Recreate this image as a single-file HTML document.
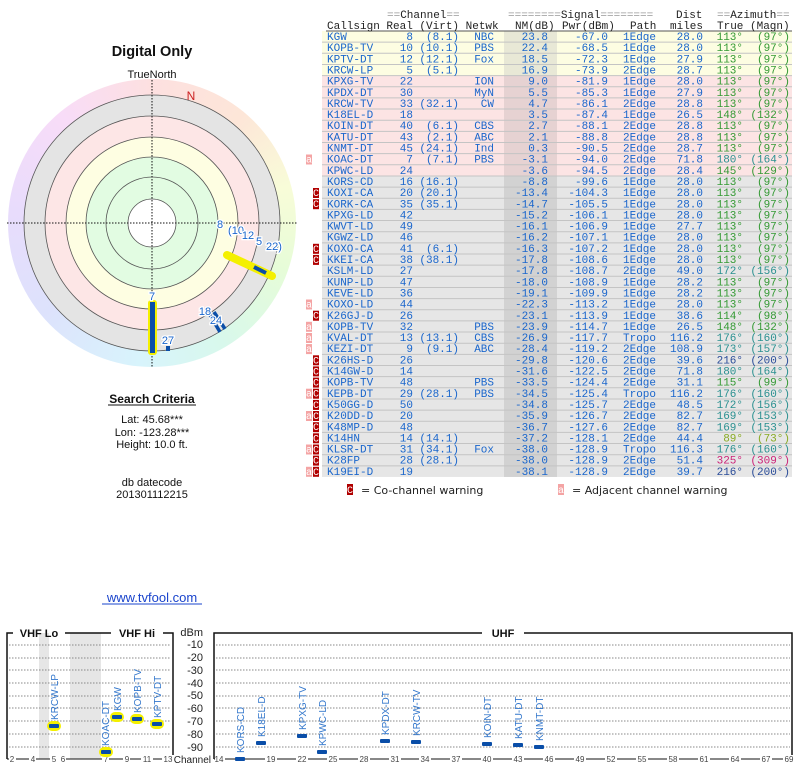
<!DOCTYPE html>
<html><head><meta charset="utf-8"><style>
body{margin:0;width:800px;height:768px;background:#fff;overflow:hidden;position:relative;font-family:"Liberation Sans",sans-serif}
svg{position:absolute;left:0;top:0}
.t text{font-family:"Liberation Mono",monospace;font-size:11px;fill:#1a66cc}
.t text.e{text-anchor:end}
.g{fill:#339933!important}.tl{fill:#2a9090!important}.db{fill:#2a4c99!important}.ol{fill:#88aa22!important}.mg{fill:#cc2277!important}
.hd text{font-family:"Liberation Mono",monospace;font-size:11px;fill:#222}
.q{fill:#999}
.rt text{font-family:"Liberation Sans",sans-serif;font-size:10px;fill:#3377cc}
.ax text{font-family:"Liberation Sans",sans-serif;font-size:11px;fill:#222;text-anchor:end}
.ch text{font-family:"Liberation Sans",sans-serif;font-size:8px;fill:#444;text-anchor:middle}
</style></head><body>
<div style="position:absolute;left:8px;top:79px;width:288px;height:288px;border-radius:50%;background:conic-gradient(#fde0e0 0deg,#fde6d8 40deg,#f8fcd8 75deg,#e6fcd8 110deg,#d8f8ec 150deg,#d8f4fc 185deg,#dde2fc 230deg,#e8dcfc 275deg,#f8dcf8 320deg,#fde0e0 360deg)"></div>
<svg width="800" height="768" viewBox="0 0 800 768">
<text x="152" y="56" font-size="14.5" font-weight="bold" text-anchor="middle" fill="#111">Digital Only</text>
<text x="152" y="78" font-size="11" text-anchor="middle" fill="#111">TrueNorth</text>
<circle cx="152" cy="223" r="128" fill="#e4e4e4" stroke="#555" stroke-width="0.8"/>
<circle cx="152" cy="223" r="107" fill="#fde6e6" stroke="#555" stroke-width="0.8"/>
<circle cx="152" cy="223" r="86" fill="#fefee2" stroke="#555" stroke-width="0.8"/>
<circle cx="152" cy="223" r="66" fill="#e2fce2" stroke="#555" stroke-width="0.8"/>
<circle cx="152" cy="223" r="46" fill="none" stroke="#555" stroke-width="0.8"/>
<circle cx="152" cy="223" r="24" fill="#fff" stroke="#555" stroke-width="0.8"/>
<line x1="7" y1="223" x2="297" y2="223" stroke="#111" stroke-dasharray="1.5,1.5"/>
<line x1="152" y1="80" x2="152" y2="368" stroke="#111" stroke-dasharray="1.5,1.5"/>
<text x="191" y="100" font-size="12" fill="#cc2222" text-anchor="middle">N</text>
<line x1="227" y1="255" x2="272" y2="276" stroke="#f4f000" stroke-width="8" stroke-linecap="round"/>
<line x1="254" y1="267" x2="266" y2="273" stroke="#0a4ea8" stroke-width="4"/>
<line x1="207" y1="310" x2="220" y2="332" stroke="#0a4ea8" stroke-width="3.5"/>
<line x1="214" y1="312" x2="225" y2="329" stroke="#0a4ea8" stroke-width="3.5"/>
<rect x="148" y="300" width="9" height="55" rx="3" fill="#f4f000"/>
<rect x="150" y="302" width="5" height="51" fill="#0a4ea8"/>
<rect x="166" y="346" width="4" height="5" fill="#0a4ea8"/>
<g font-size="11" fill="#1a66cc" stroke="#fff" stroke-width="2.5" paint-order="stroke" text-anchor="middle">
<text x="220" y="228">8</text><text x="236" y="234">(10</text><text x="248" y="239">12</text><text x="259" y="245">5</text><text x="274" y="250">22)</text>
<text x="205" y="315">18</text><text x="216" y="324">24</text><text x="152" y="300">7</text><text x="168" y="344">27</text>
</g>
<text x="152" y="403" font-size="12" font-weight="bold" text-anchor="middle" fill="#111">Search Criteria</text>
<line x1="108" y1="405" x2="196" y2="405" stroke="#111"/>
<g font-size="11" text-anchor="middle" fill="#111">
<text x="152" y="423">Lat: 45.68***</text><text x="152" y="436">Lon: -123.28***</text><text x="152" y="448">Height: 10.0 ft.</text>
<text x="152" y="486">db datecode</text><text x="152" y="498">201301112215</text></g>
<text x="152" y="602" font-size="13" text-anchor="middle" fill="#1a44cc">www.tvfool.com</text>
<line x1="102" y1="604" x2="202" y2="604" stroke="#1a44cc"/>

<rect x="322" y="31" width="470" height="44.6" fill="#fdfde2"/>
<rect x="322" y="75.6" width="470" height="100.35" fill="#fce4e4"/>
<rect x="322" y="175.95" width="470" height="301" fill="#e6e6e6"/>
<rect x="504" y="31" width="53" height="44.6" fill="#e8e8d6"/>
<rect x="504" y="75.6" width="53" height="100.35" fill="#e6d2d2"/>
<rect x="504" y="175.95" width="53" height="301" fill="#d2d2d2"/>
<g stroke="#c4c4c4" stroke-width="1">
<path d="M322 42.15H792M322 53.3H792M322 64.45H792M322 75.6H792M322 86.75H792M322 97.9H792M322 109.05H792M322 120.2H792M322 131.35H792M322 142.5H792M322 153.65H792M322 164.8H792M322 175.95H792M322 187.1H792M322 198.25H792M322 209.4H792M322 220.55H792M322 231.7H792M322 242.85H792M322 254H792M322 265.15H792M322 276.3H792M322 287.45H792M322 298.6H792M322 309.75H792M322 320.9H792M322 332.05H792M322 343.2H792M322 354.35H792M322 365.5H792M322 376.65H792M322 387.8H792M322 398.95H792M322 410.1H792M322 421.25H792M322 432.4H792M322 443.55H792M322 454.7H792M322 465.85H792"/></g>
<line x1="326" y1="31" x2="792" y2="31" stroke="#555"/>
<g class="hd">
<text x="387" y="18"><tspan class="q">==</tspan>Channel<tspan class="q">==</tspan></text>
<text x="508" y="18"><tspan class="q">========</tspan>Signal<tspan class="q">========</tspan></text>
<text x="676" y="18">Dist</text>
<text x="717" y="18"><tspan class="q">==</tspan>Azimuth<tspan class="q">==</tspan></text>
<text x="327" y="29">Callsign Real (Virt) Netwk</text>
<text x="515" y="29">NM(dB)</text><text x="562" y="29">Pwr(dBm)</text><text x="630" y="29">Path</text><text x="670" y="29">miles</text><text x="717" y="29">True (Magn)</text>
</g>
<g class="t">
<g transform="translate(0,31)"><text x="327" y="9">KGW</text><text x="413" y="9" class="e">8</text><text x="459" y="9" class="e">(8.1)</text><text x="494" y="9" class="e">NBC</text><text x="548" y="9" class="e">23.8</text><text x="608" y="9" class="e">-67.0</text><text x="623" y="9">1Edge</text><text x="703" y="9" class="e">28.0</text><text x="743" y="9" class="e g">113°</text><text x="790" y="9" class="e g">(97°)</text></g>
<g transform="translate(0,42.15)"><text x="327" y="9">KOPB-TV</text><text x="413" y="9" class="e">10</text><text x="459" y="9" class="e">(10.1)</text><text x="494" y="9" class="e">PBS</text><text x="548" y="9" class="e">22.4</text><text x="608" y="9" class="e">-68.5</text><text x="623" y="9">1Edge</text><text x="703" y="9" class="e">28.0</text><text x="743" y="9" class="e g">113°</text><text x="790" y="9" class="e g">(97°)</text></g>
<g transform="translate(0,53.3)"><text x="327" y="9">KPTV-DT</text><text x="413" y="9" class="e">12</text><text x="459" y="9" class="e">(12.1)</text><text x="494" y="9" class="e">Fox</text><text x="548" y="9" class="e">18.5</text><text x="608" y="9" class="e">-72.3</text><text x="623" y="9">1Edge</text><text x="703" y="9" class="e">27.9</text><text x="743" y="9" class="e g">113°</text><text x="790" y="9" class="e g">(97°)</text></g>
<g transform="translate(0,64.45)"><text x="327" y="9">KRCW-LP</text><text x="413" y="9" class="e">5</text><text x="459" y="9" class="e">(5.1)</text><text x="548" y="9" class="e">16.9</text><text x="608" y="9" class="e">-73.9</text><text x="623" y="9">2Edge</text><text x="703" y="9" class="e">28.7</text><text x="743" y="9" class="e g">113°</text><text x="790" y="9" class="e g">(97°)</text></g>
<g transform="translate(0,75.6)"><text x="327" y="9">KPXG-TV</text><text x="413" y="9" class="e">22</text><text x="494" y="9" class="e">ION</text><text x="548" y="9" class="e">9.0</text><text x="608" y="9" class="e">-81.9</text><text x="623" y="9">1Edge</text><text x="703" y="9" class="e">28.0</text><text x="743" y="9" class="e g">113°</text><text x="790" y="9" class="e g">(97°)</text></g>
<g transform="translate(0,86.75)"><text x="327" y="9">KPDX-DT</text><text x="413" y="9" class="e">30</text><text x="494" y="9" class="e">MyN</text><text x="548" y="9" class="e">5.5</text><text x="608" y="9" class="e">-85.3</text><text x="623" y="9">1Edge</text><text x="703" y="9" class="e">27.9</text><text x="743" y="9" class="e g">113°</text><text x="790" y="9" class="e g">(97°)</text></g>
<g transform="translate(0,97.9)"><text x="327" y="9">KRCW-TV</text><text x="413" y="9" class="e">33</text><text x="459" y="9" class="e">(32.1)</text><text x="494" y="9" class="e">CW</text><text x="548" y="9" class="e">4.7</text><text x="608" y="9" class="e">-86.1</text><text x="623" y="9">2Edge</text><text x="703" y="9" class="e">28.8</text><text x="743" y="9" class="e g">113°</text><text x="790" y="9" class="e g">(97°)</text></g>
<g transform="translate(0,109.05)"><text x="327" y="9">K18EL-D</text><text x="413" y="9" class="e">18</text><text x="548" y="9" class="e">3.5</text><text x="608" y="9" class="e">-87.4</text><text x="623" y="9">1Edge</text><text x="703" y="9" class="e">26.5</text><text x="743" y="9" class="e g">148°</text><text x="790" y="9" class="e g">(132°)</text></g>
<g transform="translate(0,120.2)"><text x="327" y="9">KOIN-DT</text><text x="413" y="9" class="e">40</text><text x="459" y="9" class="e">(6.1)</text><text x="494" y="9" class="e">CBS</text><text x="548" y="9" class="e">2.7</text><text x="608" y="9" class="e">-88.1</text><text x="623" y="9">2Edge</text><text x="703" y="9" class="e">28.8</text><text x="743" y="9" class="e g">113°</text><text x="790" y="9" class="e g">(97°)</text></g>
<g transform="translate(0,131.35)"><text x="327" y="9">KATU-DT</text><text x="413" y="9" class="e">43</text><text x="459" y="9" class="e">(2.1)</text><text x="494" y="9" class="e">ABC</text><text x="548" y="9" class="e">2.1</text><text x="608" y="9" class="e">-88.8</text><text x="623" y="9">2Edge</text><text x="703" y="9" class="e">28.8</text><text x="743" y="9" class="e g">113°</text><text x="790" y="9" class="e g">(97°)</text></g>
<g transform="translate(0,142.5)"><text x="327" y="9">KNMT-DT</text><text x="413" y="9" class="e">45</text><text x="459" y="9" class="e">(24.1)</text><text x="494" y="9" class="e">Ind</text><text x="548" y="9" class="e">0.3</text><text x="608" y="9" class="e">-90.5</text><text x="623" y="9">2Edge</text><text x="703" y="9" class="e">28.7</text><text x="743" y="9" class="e g">113°</text><text x="790" y="9" class="e g">(97°)</text></g>
<g transform="translate(0,153.65)"><text x="327" y="9">KOAC-DT</text><text x="413" y="9" class="e">7</text><text x="459" y="9" class="e">(7.1)</text><text x="494" y="9" class="e">PBS</text><text x="548" y="9" class="e">-3.1</text><text x="608" y="9" class="e">-94.0</text><text x="623" y="9">2Edge</text><text x="703" y="9" class="e">71.8</text><text x="743" y="9" class="e tl">180°</text><text x="790" y="9" class="e tl">(164°)</text></g>
<g transform="translate(0,164.8)"><text x="327" y="9">KPWC-LD</text><text x="413" y="9" class="e">24</text><text x="548" y="9" class="e">-3.6</text><text x="608" y="9" class="e">-94.5</text><text x="623" y="9">2Edge</text><text x="703" y="9" class="e">28.4</text><text x="743" y="9" class="e g">145°</text><text x="790" y="9" class="e g">(129°)</text></g>
<g transform="translate(0,175.95)"><text x="327" y="9">KORS-CD</text><text x="413" y="9" class="e">16</text><text x="459" y="9" class="e">(16.1)</text><text x="548" y="9" class="e">-8.8</text><text x="608" y="9" class="e">-99.6</text><text x="623" y="9">1Edge</text><text x="703" y="9" class="e">28.0</text><text x="743" y="9" class="e g">113°</text><text x="790" y="9" class="e g">(97°)</text></g>
<g transform="translate(0,187.1)"><text x="327" y="9">KOXI-CA</text><text x="413" y="9" class="e">20</text><text x="459" y="9" class="e">(20.1)</text><text x="548" y="9" class="e">-13.4</text><text x="608" y="9" class="e">-104.3</text><text x="623" y="9">1Edge</text><text x="703" y="9" class="e">28.0</text><text x="743" y="9" class="e g">113°</text><text x="790" y="9" class="e g">(97°)</text></g>
<g transform="translate(0,198.25)"><text x="327" y="9">KORK-CA</text><text x="413" y="9" class="e">35</text><text x="459" y="9" class="e">(35.1)</text><text x="548" y="9" class="e">-14.7</text><text x="608" y="9" class="e">-105.5</text><text x="623" y="9">1Edge</text><text x="703" y="9" class="e">28.0</text><text x="743" y="9" class="e g">113°</text><text x="790" y="9" class="e g">(97°)</text></g>
<g transform="translate(0,209.4)"><text x="327" y="9">KPXG-LD</text><text x="413" y="9" class="e">42</text><text x="548" y="9" class="e">-15.2</text><text x="608" y="9" class="e">-106.1</text><text x="623" y="9">1Edge</text><text x="703" y="9" class="e">28.0</text><text x="743" y="9" class="e g">113°</text><text x="790" y="9" class="e g">(97°)</text></g>
<g transform="translate(0,220.55)"><text x="327" y="9">KWVT-LD</text><text x="413" y="9" class="e">49</text><text x="548" y="9" class="e">-16.1</text><text x="608" y="9" class="e">-106.9</text><text x="623" y="9">1Edge</text><text x="703" y="9" class="e">27.7</text><text x="743" y="9" class="e g">113°</text><text x="790" y="9" class="e g">(97°)</text></g>
<g transform="translate(0,231.7)"><text x="327" y="9">KGWZ-LD</text><text x="413" y="9" class="e">46</text><text x="548" y="9" class="e">-16.2</text><text x="608" y="9" class="e">-107.1</text><text x="623" y="9">1Edge</text><text x="703" y="9" class="e">28.0</text><text x="743" y="9" class="e g">113°</text><text x="790" y="9" class="e g">(97°)</text></g>
<g transform="translate(0,242.85)"><text x="327" y="9">KOXO-CA</text><text x="413" y="9" class="e">41</text><text x="459" y="9" class="e">(6.1)</text><text x="548" y="9" class="e">-16.3</text><text x="608" y="9" class="e">-107.2</text><text x="623" y="9">1Edge</text><text x="703" y="9" class="e">28.0</text><text x="743" y="9" class="e g">113°</text><text x="790" y="9" class="e g">(97°)</text></g>
<g transform="translate(0,254)"><text x="327" y="9">KKEI-CA</text><text x="413" y="9" class="e">38</text><text x="459" y="9" class="e">(38.1)</text><text x="548" y="9" class="e">-17.8</text><text x="608" y="9" class="e">-108.6</text><text x="623" y="9">1Edge</text><text x="703" y="9" class="e">28.0</text><text x="743" y="9" class="e g">113°</text><text x="790" y="9" class="e g">(97°)</text></g>
<g transform="translate(0,265.15)"><text x="327" y="9">KSLM-LD</text><text x="413" y="9" class="e">27</text><text x="548" y="9" class="e">-17.8</text><text x="608" y="9" class="e">-108.7</text><text x="623" y="9">2Edge</text><text x="703" y="9" class="e">49.0</text><text x="743" y="9" class="e tl">172°</text><text x="790" y="9" class="e tl">(156°)</text></g>
<g transform="translate(0,276.3)"><text x="327" y="9">KUNP-LD</text><text x="413" y="9" class="e">47</text><text x="548" y="9" class="e">-18.0</text><text x="608" y="9" class="e">-108.9</text><text x="623" y="9">1Edge</text><text x="703" y="9" class="e">28.2</text><text x="743" y="9" class="e g">113°</text><text x="790" y="9" class="e g">(97°)</text></g>
<g transform="translate(0,287.45)"><text x="327" y="9">KEVE-LD</text><text x="413" y="9" class="e">36</text><text x="548" y="9" class="e">-19.1</text><text x="608" y="9" class="e">-109.9</text><text x="623" y="9">1Edge</text><text x="703" y="9" class="e">28.2</text><text x="743" y="9" class="e g">113°</text><text x="790" y="9" class="e g">(97°)</text></g>
<g transform="translate(0,298.6)"><text x="327" y="9">KOXO-LD</text><text x="413" y="9" class="e">44</text><text x="548" y="9" class="e">-22.3</text><text x="608" y="9" class="e">-113.2</text><text x="623" y="9">1Edge</text><text x="703" y="9" class="e">28.0</text><text x="743" y="9" class="e g">113°</text><text x="790" y="9" class="e g">(97°)</text></g>
<g transform="translate(0,309.75)"><text x="327" y="9">K26GJ-D</text><text x="413" y="9" class="e">26</text><text x="548" y="9" class="e">-23.1</text><text x="608" y="9" class="e">-113.9</text><text x="623" y="9">1Edge</text><text x="703" y="9" class="e">38.6</text><text x="743" y="9" class="e g">114°</text><text x="790" y="9" class="e g">(98°)</text></g>
<g transform="translate(0,320.9)"><text x="327" y="9">KOPB-TV</text><text x="413" y="9" class="e">32</text><text x="494" y="9" class="e">PBS</text><text x="548" y="9" class="e">-23.9</text><text x="608" y="9" class="e">-114.7</text><text x="623" y="9">1Edge</text><text x="703" y="9" class="e">26.5</text><text x="743" y="9" class="e g">148°</text><text x="790" y="9" class="e g">(132°)</text></g>
<g transform="translate(0,332.05)"><text x="327" y="9">KVAL-DT</text><text x="413" y="9" class="e">13</text><text x="459" y="9" class="e">(13.1)</text><text x="494" y="9" class="e">CBS</text><text x="548" y="9" class="e">-26.9</text><text x="608" y="9" class="e">-117.7</text><text x="623" y="9">Tropo</text><text x="703" y="9" class="e">116.2</text><text x="743" y="9" class="e tl">176°</text><text x="790" y="9" class="e tl">(160°)</text></g>
<g transform="translate(0,343.2)"><text x="327" y="9">KEZI-DT</text><text x="413" y="9" class="e">9</text><text x="459" y="9" class="e">(9.1)</text><text x="494" y="9" class="e">ABC</text><text x="548" y="9" class="e">-28.4</text><text x="608" y="9" class="e">-119.2</text><text x="623" y="9">2Edge</text><text x="703" y="9" class="e">108.9</text><text x="743" y="9" class="e tl">173°</text><text x="790" y="9" class="e tl">(157°)</text></g>
<g transform="translate(0,354.35)"><text x="327" y="9">K26HS-D</text><text x="413" y="9" class="e">26</text><text x="548" y="9" class="e">-29.8</text><text x="608" y="9" class="e">-120.6</text><text x="623" y="9">2Edge</text><text x="703" y="9" class="e">39.6</text><text x="743" y="9" class="e db">216°</text><text x="790" y="9" class="e db">(200°)</text></g>
<g transform="translate(0,365.5)"><text x="327" y="9">K14GW-D</text><text x="413" y="9" class="e">14</text><text x="548" y="9" class="e">-31.6</text><text x="608" y="9" class="e">-122.5</text><text x="623" y="9">2Edge</text><text x="703" y="9" class="e">71.8</text><text x="743" y="9" class="e tl">180°</text><text x="790" y="9" class="e tl">(164°)</text></g>
<g transform="translate(0,376.65)"><text x="327" y="9">KOPB-TV</text><text x="413" y="9" class="e">48</text><text x="494" y="9" class="e">PBS</text><text x="548" y="9" class="e">-33.5</text><text x="608" y="9" class="e">-124.4</text><text x="623" y="9">2Edge</text><text x="703" y="9" class="e">31.1</text><text x="743" y="9" class="e g">115°</text><text x="790" y="9" class="e g">(99°)</text></g>
<g transform="translate(0,387.8)"><text x="327" y="9">KEPB-DT</text><text x="413" y="9" class="e">29</text><text x="459" y="9" class="e">(28.1)</text><text x="494" y="9" class="e">PBS</text><text x="548" y="9" class="e">-34.5</text><text x="608" y="9" class="e">-125.4</text><text x="623" y="9">Tropo</text><text x="703" y="9" class="e">116.2</text><text x="743" y="9" class="e tl">176°</text><text x="790" y="9" class="e tl">(160°)</text></g>
<g transform="translate(0,398.95)"><text x="327" y="9">K50GG-D</text><text x="413" y="9" class="e">50</text><text x="548" y="9" class="e">-34.8</text><text x="608" y="9" class="e">-125.7</text><text x="623" y="9">2Edge</text><text x="703" y="9" class="e">48.5</text><text x="743" y="9" class="e tl">172°</text><text x="790" y="9" class="e tl">(156°)</text></g>
<g transform="translate(0,410.1)"><text x="327" y="9">K20DD-D</text><text x="413" y="9" class="e">20</text><text x="548" y="9" class="e">-35.9</text><text x="608" y="9" class="e">-126.7</text><text x="623" y="9">2Edge</text><text x="703" y="9" class="e">82.7</text><text x="743" y="9" class="e tl">169°</text><text x="790" y="9" class="e tl">(153°)</text></g>
<g transform="translate(0,421.25)"><text x="327" y="9">K48MP-D</text><text x="413" y="9" class="e">48</text><text x="548" y="9" class="e">-36.7</text><text x="608" y="9" class="e">-127.6</text><text x="623" y="9">2Edge</text><text x="703" y="9" class="e">82.7</text><text x="743" y="9" class="e tl">169°</text><text x="790" y="9" class="e tl">(153°)</text></g>
<g transform="translate(0,432.4)"><text x="327" y="9">K14HN</text><text x="413" y="9" class="e">14</text><text x="459" y="9" class="e">(14.1)</text><text x="548" y="9" class="e">-37.2</text><text x="608" y="9" class="e">-128.1</text><text x="623" y="9">2Edge</text><text x="703" y="9" class="e">44.4</text><text x="743" y="9" class="e ol">89°</text><text x="790" y="9" class="e ol">(73°)</text></g>
<g transform="translate(0,443.55)"><text x="327" y="9">KLSR-DT</text><text x="413" y="9" class="e">31</text><text x="459" y="9" class="e">(34.1)</text><text x="494" y="9" class="e">Fox</text><text x="548" y="9" class="e">-38.0</text><text x="608" y="9" class="e">-128.9</text><text x="623" y="9">Tropo</text><text x="703" y="9" class="e">116.3</text><text x="743" y="9" class="e tl">176°</text><text x="790" y="9" class="e tl">(160°)</text></g>
<g transform="translate(0,454.7)"><text x="327" y="9">K28FP</text><text x="413" y="9" class="e">28</text><text x="459" y="9" class="e">(28.1)</text><text x="548" y="9" class="e">-38.0</text><text x="608" y="9" class="e">-128.9</text><text x="623" y="9">2Edge</text><text x="703" y="9" class="e">51.4</text><text x="743" y="9" class="e mg">325°</text><text x="790" y="9" class="e mg">(309°)</text></g>
<g transform="translate(0,465.85)"><text x="327" y="9">K19EI-D</text><text x="413" y="9" class="e">19</text><text x="548" y="9" class="e">-38.1</text><text x="608" y="9" class="e">-128.9</text><text x="623" y="9">2Edge</text><text x="703" y="9" class="e">39.7</text><text x="743" y="9" class="e db">216°</text><text x="790" y="9" class="e db">(200°)</text></g>
</g>
<g font-family="Liberation Mono,monospace" font-size="10" fill="#fff" text-anchor="middle">
<g fill="#f4a4a4"><rect x="306" y="154.5" width="6" height="10"/><rect x="306" y="299.5" width="6" height="10"/><rect x="306" y="321.8" width="6" height="10"/><rect x="306" y="333" width="6" height="10"/><rect x="306" y="344.1" width="6" height="10"/><rect x="306" y="388.7" width="6" height="10"/><rect x="306" y="411" width="6" height="10"/><rect x="306" y="444.5" width="6" height="10"/><rect x="306" y="466.8" width="6" height="10"/></g>
<g fill="#b00000"><rect x="313" y="188" width="6" height="10"/><rect x="313" y="199.2" width="6" height="10"/><rect x="313" y="243.8" width="6" height="10"/><rect x="313" y="254.9" width="6" height="10"/><rect x="313" y="310.7" width="6" height="10"/><rect x="313" y="355.3" width="6" height="10"/><rect x="313" y="366.4" width="6" height="10"/><rect x="313" y="377.6" width="6" height="10"/><rect x="313" y="388.7" width="6" height="10"/><rect x="313" y="399.9" width="6" height="10"/><rect x="313" y="411" width="6" height="10"/><rect x="313" y="422.2" width="6" height="10"/><rect x="313" y="433.3" width="6" height="10"/><rect x="313" y="444.5" width="6" height="10"/><rect x="313" y="455.6" width="6" height="10"/><rect x="313" y="466.8" width="6" height="10"/></g>
<text x="309" y="162.5">a</text><text x="309" y="307.5">a</text><text x="309" y="329.8">a</text><text x="309" y="341">a</text><text x="309" y="352.1">a</text><text x="309" y="396.7">a</text><text x="309" y="419">a</text><text x="309" y="452.5">a</text><text x="309" y="474.8">a</text>
<text x="316" y="196">C</text><text x="316" y="207.2">C</text><text x="316" y="251.8">C</text><text x="316" y="262.9">C</text><text x="316" y="318.7">C</text><text x="316" y="363.3">C</text><text x="316" y="374.4">C</text><text x="316" y="385.6">C</text><text x="316" y="396.7">C</text><text x="316" y="407.9">C</text><text x="316" y="419">C</text><text x="316" y="430.2">C</text><text x="316" y="441.3">C</text><text x="316" y="452.5">C</text><text x="316" y="463.6">C</text><text x="316" y="474.8">C</text>
<rect x="347" y="484" width="6" height="11" fill="#b00000"/><text x="350" y="493">C</text>
<rect x="558" y="484" width="6" height="11" fill="#f4a4a4"/><text x="561" y="493">a</text>
</g>
<g font-family="DejaVu Sans,sans-serif" font-size="11" fill="#222"><text x="361" y="494">= Co-channel warning</text><text x="572" y="494">= Adjacent channel warning</text></g>

<rect x="39" y="633" width="10" height="126" fill="#e6e6e6"/>
<rect x="70" y="633" width="31" height="126" fill="#e6e6e6"/>
<g stroke="#888" stroke-dasharray="1.5,1.5"><path d="M9 645H171M9 658H171M9 670H171M9 683H171M9 696H171M9 708H171M9 721H171M9 734H171M9 747H171M216 645H790M216 658H790M216 670H790M216 683H790M216 696H790M216 708H790M216 721H790M216 734H790M216 747H790"/></g>
<g stroke="#111" stroke-width="1.5" fill="none">
<path d="M7 759V633H13M65 633H111M163 633H173V759"/>
<path d="M214 759V633H482M524 633H792V759"/>
<path d="M7 759H173M214 759H792" stroke-width="1"/>
</g>
<g font-size="11" font-weight="bold" fill="#111" text-anchor="middle"><text x="39" y="637">VHF Lo</text><text x="137" y="637">VHF Hi</text><text x="503" y="637">UHF</text></g>
<g class="ax"><text x="203" y="636">dBm</text><text x="203" y="648">-10</text><text x="203" y="661">-20</text><text x="203" y="674">-30</text><text x="203" y="687">-40</text><text x="203" y="699">-50</text><text x="203" y="712">-60</text><text x="203" y="725">-70</text><text x="203" y="738">-80</text><text x="203" y="751">-90</text><text x="211" y="763" style="font-size:10px">Channel</text></g>
<g class="ch"><g fill="#fff"><rect x="9" y="755" width="7" height="8"/><rect x="29" y="755" width="7" height="8"/><rect x="50" y="755" width="16" height="8"/><rect x="102" y="755" width="7" height="8"/><rect x="123" y="755" width="7" height="8"/><rect x="141" y="755" width="12" height="8"/><rect x="162" y="755" width="12" height="8"/></g>
<text x="12" y="762">2</text><text x="33" y="762">4</text><text x="54" y="762">5</text><text x="63" y="762">6</text><text x="106" y="762">7</text><text x="127" y="762">9</text><text x="147" y="762">11</text><text x="168" y="762">13</text>
<g fill="#fff"><rect x="215" y="755" width="10" height="8"/><rect x="265" y="755" width="12" height="8"/><rect x="296" y="755" width="12" height="8"/><rect x="327" y="755" width="12" height="8"/><rect x="358" y="755" width="12" height="8"/><rect x="389" y="755" width="12" height="8"/><rect x="419" y="755" width="12" height="8"/><rect x="450" y="755" width="12" height="8"/><rect x="481" y="755" width="12" height="8"/><rect x="512" y="755" width="12" height="8"/><rect x="543" y="755" width="12" height="8"/><rect x="574" y="755" width="12" height="8"/><rect x="605" y="755" width="12" height="8"/><rect x="636" y="755" width="12" height="8"/><rect x="667" y="755" width="12" height="8"/><rect x="698" y="755" width="12" height="8"/><rect x="729" y="755" width="12" height="8"/><rect x="760" y="755" width="12" height="8"/><rect x="783" y="755" width="12" height="8"/></g>
<text x="219" y="762">14</text><text x="271" y="762">19</text><text x="302" y="762">22</text><text x="333" y="762">25</text><text x="364" y="762">28</text><text x="395" y="762">31</text><text x="425" y="762">34</text><text x="456" y="762">37</text><text x="487" y="762">40</text><text x="518" y="762">43</text><text x="549" y="762">46</text><text x="580" y="762">49</text><text x="611" y="762">52</text><text x="642" y="762">55</text><text x="673" y="762">58</text><text x="704" y="762">61</text><text x="735" y="762">64</text><text x="766" y="762">67</text><text x="789" y="762">69</text></g>
<g fill="#f4f000"><rect x="47" y="721" width="14" height="10" rx="5"/><rect x="99" y="747" width="14" height="10" rx="5"/><rect x="110" y="712" width="14" height="10" rx="5"/><rect x="130" y="714" width="14" height="10" rx="5"/><rect x="150" y="719" width="14" height="10" rx="5"/></g>
<g fill="#0a4ea8"><rect x="49" y="724" width="10" height="4" rx="1"/><rect x="101" y="750" width="10" height="4" rx="1"/><rect x="112" y="715" width="10" height="4" rx="1"/><rect x="132" y="717" width="10" height="4" rx="1"/><rect x="152" y="722" width="10" height="4" rx="1"/>
<rect x="235" y="757" width="10" height="4" rx="1"/><rect x="256" y="741" width="10" height="4" rx="1"/><rect x="297" y="734" width="10" height="4" rx="1"/><rect x="317" y="750" width="10" height="4" rx="1"/><rect x="380" y="739" width="10" height="4" rx="1"/><rect x="411" y="740" width="10" height="4" rx="1"/><rect x="482" y="742" width="10" height="4" rx="1"/><rect x="513" y="743" width="10" height="4" rx="1"/><rect x="534" y="745" width="10" height="4" rx="1"/></g>
<g class="rt">
<text transform="translate(58,720) rotate(-90)">KRCW-LP</text>
<text transform="translate(109,746) rotate(-90)">KOAC-DT</text>
<text transform="translate(121,711) rotate(-90)">KGW</text>
<text transform="translate(141,713) rotate(-90)">KOPB-TV</text>
<text transform="translate(161,718) rotate(-90)">KPTV-DT</text>
<text transform="translate(244,753) rotate(-90)">KORS-CD</text>
<text transform="translate(265,737) rotate(-90)">K18EL-D</text>
<text transform="translate(306,730) rotate(-90)">KPXG-TV</text>
<text transform="translate(326,746) rotate(-90)">KPWC-LD</text>
<text transform="translate(389,735) rotate(-90)">KPDX-DT</text>
<text transform="translate(420,736) rotate(-90)">KRCW-TV</text>
<text transform="translate(491,738) rotate(-90)">KOIN-DT</text>
<text transform="translate(522,739) rotate(-90)">KATU-DT</text>
<text transform="translate(543,741) rotate(-90)">KNMT-DT</text>
</g>
</svg>
</body></html>
